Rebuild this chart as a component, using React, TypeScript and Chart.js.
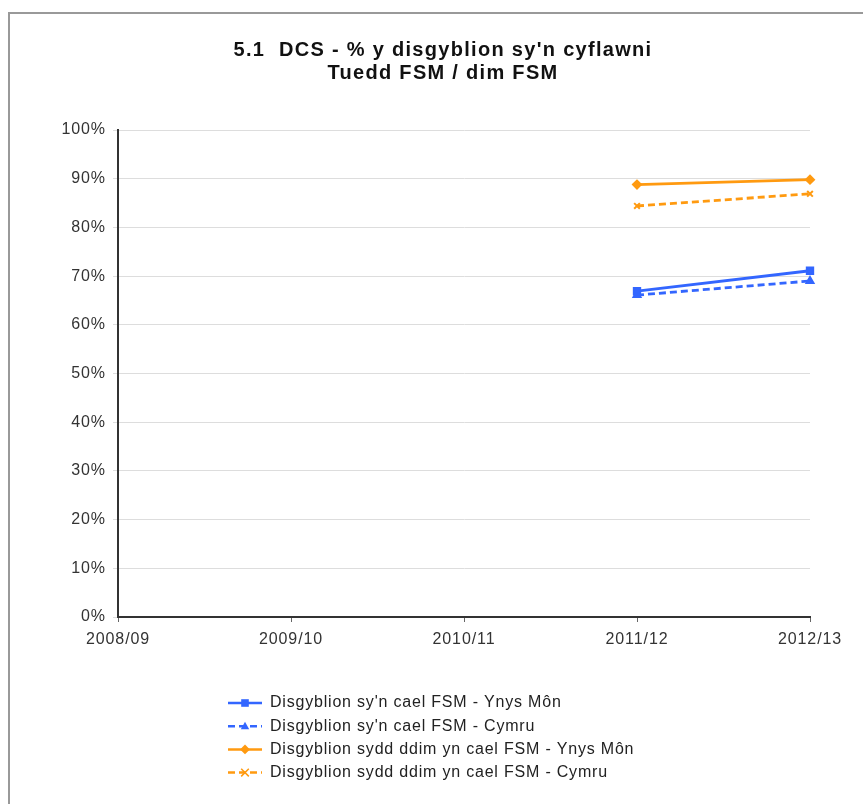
import React, { useEffect, useRef } from "react";
import { Chart, registerables } from "chart.js";
Chart.register(...registerables);

const categories = ["2008/09", "2009/10", "2010/11", "2011/12", "2012/13"];
const fsmMon = [null, null, null, 66.9, 71.1];
const fsmCymru = [null, null, null, 66.1, 69.0];
const nonFsmMon = [null, null, null, 88.8, 89.8];
const nonFsmCymru = [null, null, null, 84.4, 86.9];
const seriesNames = [
  "Disgyblion sy'n cael FSM - Ynys Môn",
  "Disgyblion sy'n cael FSM - Cymru",
  "Disgyblion sydd ddim yn cael FSM - Ynys Môn",
  "Disgyblion sydd ddim yn cael FSM - Cymru",
];
const titleLines = ["5.1  DCS - % y disgyblion sy'n cyflawni", "Tuedd FSM / dim FSM"];

const BLUE = "#3366ff";
const ORANGE = "#ff9a10";
const FONT = "'Liberation Sans', Arial, sans-serif";
const TICK_SPACING = "0.9px";

function drawMarker(ctx: CanvasRenderingContext2D, style: string, x: number, y: number, r: number) {
  ctx.beginPath();
  if (style === "rect") {
    ctx.rect(x - r, y - r, 2 * r, 2 * r);
    ctx.fill();
  } else if (style === "rectRot") {
    ctx.moveTo(x, y - r * 1.3);
    ctx.lineTo(x + r * 1.3, y);
    ctx.lineTo(x, y + r * 1.3);
    ctx.lineTo(x - r * 1.3, y);
    ctx.closePath();
    ctx.fill();
  } else if (style === "triangle") {
    ctx.moveTo(x, y - r * 1.2);
    ctx.lineTo(x + r * 1.1, y + r * 0.8);
    ctx.lineTo(x - r * 1.1, y + r * 0.8);
    ctx.closePath();
    ctx.fill();
  } else {
    ctx.moveTo(x - r, y - r);
    ctx.lineTo(x + r, y + r);
    ctx.moveTo(x + r, y - r);
    ctx.lineTo(x - r, y + r);
    ctx.stroke();
  }
}

const decorPlugin = {
  id: "decor",
  beforeDraw(chart: any) {
    (chart.ctx as any).letterSpacing = TICK_SPACING;
  },
  afterDraw(chart: any) {
    const ctx = chart.ctx;
    // title
    ctx.save();
    (ctx as any).letterSpacing = "1.3px";
    ctx.fillStyle = "#111";
    ctx.font = `bold 20px ${FONT}`;
    ctx.textAlign = "center";
    ctx.textBaseline = "middle";
    titleLines.forEach((t, i) => ctx.fillText(t, 443, 50 + i * 23));
    ctx.restore();
    // legend
    const x0 = 228;
    const y0 = 703;
    const step = 23.2;
    chart.data.datasets.forEach((ds: any, i: number) => {
      const y = y0 + i * step;
      ctx.save();
      ctx.strokeStyle = ds.borderColor;
      ctx.lineWidth = 2.5;
      ctx.setLineDash(ds.borderDash || []);
      ctx.beginPath();
      ctx.moveTo(x0, y);
      ctx.lineTo(x0 + 34, y);
      ctx.stroke();
      ctx.restore();
      ctx.save();
      ctx.fillStyle = ds.pointBackgroundColor;
      ctx.strokeStyle = ds.pointBorderColor;
      ctx.lineWidth = 1.5;
      drawMarker(ctx, ds.pointStyle, x0 + 17, y, 3.8);
      ctx.restore();
      ctx.save();
      (ctx as any).letterSpacing = "0.8px";
      ctx.fillStyle = "#222";
      ctx.font = `16px ${FONT}`;
      ctx.textAlign = "left";
      ctx.textBaseline = "middle";
      ctx.fillText(ds.label, x0 + 42, y);
      ctx.restore();
    });
  },
};

export default function App() {
  const ref = useRef<HTMLCanvasElement>(null);
  useEffect(() => {
    if (!ref.current) return;
    const mk = (label: string, data: any[], color: string, dash: number[], pointStyle: string, radius: number) => ({
      label,
      data,
      borderColor: color,
      backgroundColor: color,
      pointBackgroundColor: color,
      pointBorderColor: color,
      borderWidth: 2.8,
      borderDash: dash,
      pointStyle,
      pointRadius: radius,
      pointBorderWidth: 2,
      spanGaps: false,
    });
    const chart = new Chart(ref.current, {
      type: "line",
      data: {
        labels: categories,
        datasets: [
          mk(seriesNames[0], fsmMon, BLUE, [], "rect", 4.5),
          mk(seriesNames[1], fsmCymru, BLUE, [7, 4], "triangle", 4),
          mk(seriesNames[2], nonFsmMon, ORANGE, [], "rectRot", 4),
          mk(seriesNames[3], nonFsmCymru, ORANGE, [7, 4], "crossRot", 4),
        ],
      },
      options: {
        animation: false,
        responsive: false,
        devicePixelRatio: 1,
        layout: { padding: { left: 0, right: 53, top: 130, bottom: 157 } },
        plugins: {
          legend: { display: false },
          tooltip: { enabled: false },
          title: { display: false },
        },
        scales: {
          x: {
            type: "category",
            offset: false,
            grid: { drawOnChartArea: false, drawTicks: true, tickLength: 5, color: "#666" },
            border: { color: "#333", width: 2 },
            ticks: { color: "#333", font: { family: FONT, size: 16 }, padding: 8, maxRotation: 0, autoSkip: false },
            afterFit: (s: any) => { s.height = 30; },
          },
          y: {
            min: 0,
            max: 100,
            grid: { color: "#dddddd", lineWidth: 1, drawTicks: true, tickLength: 5 },
            border: { color: "#333", width: 2 },
            ticks: {
              stepSize: 10,
              color: "#333",
              font: { family: FONT, size: 16 },
              padding: 7,
              callback: (v: any) => `${v}%`,
            },
            afterFit: (s: any) => { s.width = 118; },
          },
        },
      },
      plugins: [decorPlugin],
    } as any);
    return () => chart.destroy();
  }, []);
  return (
    <div style={{ position: "fixed", left: 0, top: 0, width: 863, height: 804, background: "#fff" }}>
      <div style={{ position: "absolute", left: 8, top: 12, width: 900, height: 900, borderLeft: "2px solid #999", borderTop: "2px solid #999" }} />
      <canvas ref={ref} width={863} height={804} style={{ position: "absolute", left: 0, top: 0 }} />
    </div>
  );
}
